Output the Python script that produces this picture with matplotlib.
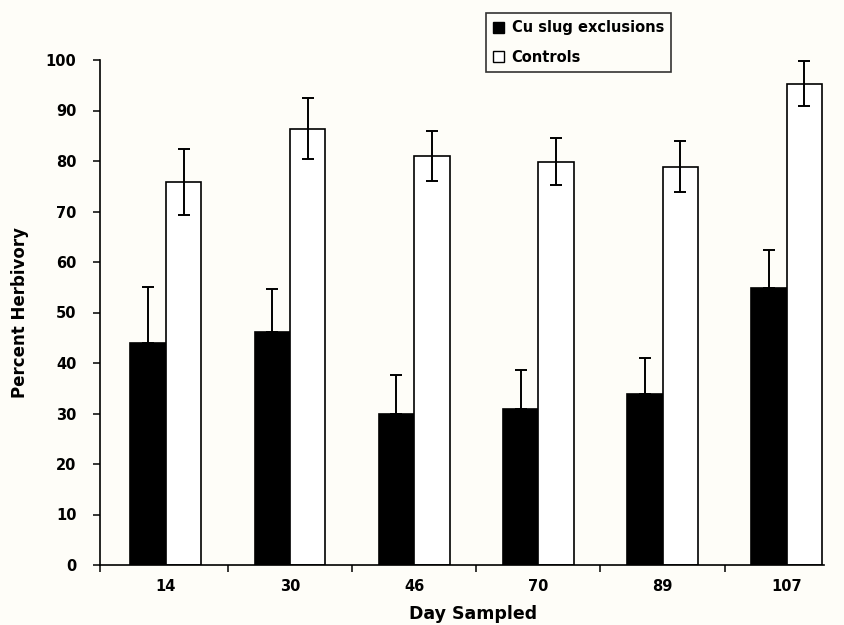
import matplotlib
matplotlib.use("Agg")
import matplotlib.pyplot as plt
import numpy as np
from matplotlib.patches import Patch

days = ["14", "30", "46", "70", "89", "107"]
cu_vals = [44.0, 46.1, 29.9, 30.8, 33.8, 54.9]
cu_err = [11.1, 8.6, 7.7, 7.8, 7.1, 7.5]
ctrl_vals = [75.9, 86.4, 81.0, 79.9, 78.9, 95.3]
ctrl_err = [6.5, 6.0, 5.0, 4.6, 5.0, 4.5]
series_names = ["Cu slug exclusions", "Controls"]

bg = "#fefdf8"
plt.rcParams['font.family'] = ['DejaVu Sans']
fig = plt.figure(figsize=(8.45, 6.25), dpi=100, facecolor=bg)
ax = fig.add_axes([100/845, 60/625, 724/845, 505/625], facecolor=bg)

x = np.arange(len(days))
w = 0.285
ax.bar(x - w/2, cu_vals, w, color="black", edgecolor="black", linewidth=1.2, zorder=2)
ax.bar(x + w/2, ctrl_vals, w, color="white", edgecolor="black", linewidth=1.2, zorder=2)
ax.errorbar(x - w/2, cu_vals, yerr=[np.zeros(len(cu_err)), cu_err], fmt="none",
            ecolor="black", elinewidth=1.4, capsize=4, capthick=1.4, zorder=3)
ax.errorbar(x + w/2, ctrl_vals, yerr=ctrl_err, fmt="none",
            ecolor="black", elinewidth=1.4, capsize=4, capthick=1.4, zorder=3)

ax.set_xlim(-0.53, len(days) - 0.70)
ax.set_ylim(0, 100)
ax.set_yticks(np.arange(0, 101, 10))
ax.set_yticklabels([str(v) for v in range(0, 101, 10)], fontweight="bold", fontsize=10.5)
ax.set_xticks(x)
ax.set_xticklabels(days, fontweight="bold", fontsize=10.5)
ax.tick_params(axis="x", length=0, pad=10)
ax.set_xticks(np.concatenate([[-0.53], np.arange(len(days) - 1) + 0.5]), minor=True)
ax.tick_params(axis="x", which="minor", length=5, width=1.1, direction="out")
ax.tick_params(axis="y", length=5, width=1.1, direction="out", pad=12)

for s in ["top", "right"]:
    ax.spines[s].set_visible(False)
for s in ["left", "bottom"]:
    ax.spines[s].set_linewidth(1.2)

ax.set_ylabel("Percent Herbivory", fontweight="bold", fontsize=12, labelpad=12)
ax.set_xlabel("Day Sampled", fontweight="bold", fontsize=12.5)
ax.xaxis.set_label_coords((473 - 100) / 724, -(605 - 565) / 505)
ax.xaxis.label.set_verticalalignment("top")

handles = [Patch(facecolor="black", edgecolor="black"),
           Patch(facecolor="white", edgecolor="black")]
leg = fig.legend(handles, series_names, loc="upper left",
                 bbox_to_anchor=(486/845, 1 - 13/625), frameon=True, fancybox=False,
                 prop={"weight": "bold", "size": 10.5}, handlelength=0.75, handleheight=0.75,
                 handletextpad=0.5, borderpad=0.5, labelspacing=1.0, borderaxespad=0)
leg.get_frame().set_edgecolor("black")
leg.get_frame().set_linewidth(1.2)
leg.get_frame().set_facecolor(bg)

fig.savefig("out.png", dpi=100, facecolor=bg)
